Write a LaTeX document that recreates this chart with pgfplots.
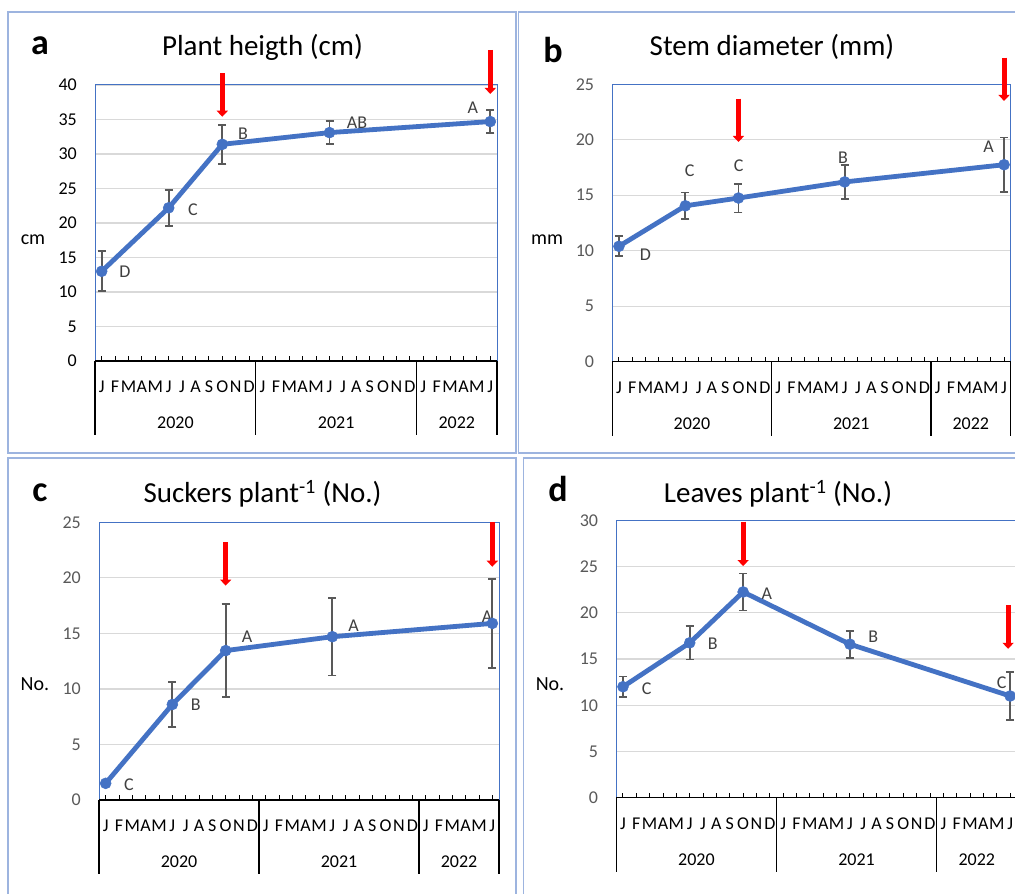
\documentclass[border=0pt]{standalone}
\usepackage{pgfplots}
\pgfplotsset{compat=1.18}
\usepackage{fontspec}
\setmainfont{Carlito}
\usetikzlibrary{arrows.meta}
\definecolor{cLine}{HTML}{4472C4}
\definecolor{cErr}{HTML}{595959}
\definecolor{cGrid}{HTML}{D9D9D9}
\definecolor{cBox}{HTML}{4472C4}
\definecolor{cFrame}{HTML}{9DB4DF}
\definecolor{cTxt}{HTML}{595959}
\definecolor{cLab}{HTML}{404040}
\definecolor{cRed}{HTML}{FF0000}
\newcommand{\fs}[1]{\fontsize{#1}{#1}\selectfont}

\pgfplotsset{
  panel/.style={
    scale only axis, anchor=south west, clip=false,
    xmin=-0.5, xmax=29.5, ymin=0,
    xtick={0,...,29},
    xticklabels={J,F,M,A,M,J,J,A,S,O,N,D,J,F,M,A,M,J,J,A,S,O,N,D,J,F,M,A,M,J},
    xtick pos=bottom, ytick pos=left,
    tick align=inside, major tick length=5pt,
    xtick style={black, line width=1pt},
    ytick style={draw=none},
    axis line style={cBox, line width=1pt},
    ymajorgrids, grid style={cGrid, line width=1.2pt},
    xticklabel style={anchor=base, yshift=-31.5pt, font=\fs{18}, text=black},
    yticklabel style={anchor=east, inner sep=0pt, xshift=-18pt, font=\fs{18}, text=cTxt},
    /pgf/number format/assume math mode=true,
  },
  series/.style={cLine, line width=4.8pt, line join=round, mark=*, mark size=5.5pt,
    mark options={fill=cLine, draw=cLine, line width=0.5pt},
    error bars/.cd, y dir=both, y explicit,
    error bar style={cErr, line width=1.8pt},
    error mark options={cErr, rotate=90, line width=1.8pt, mark size=4pt}},
}
\tikzset{
  arr/.style={cRed, line width=5pt, -{Triangle[width=11pt,length=6pt]}},
  lab/.style={font=\fs{18}, text=cLab},
}
\newcommand{\yearaxis}{%
  \draw[black, line width=1.5pt] (rel axis cs:0,0) -- (rel axis cs:1,0);
  \draw[black, line width=1.3pt] (axis cs:-0.5,0) -- ++(0pt,-74pt);
  \draw[black, line width=1.3pt] (axis cs:11.5,0) -- ++(0pt,-74pt);
  \draw[black, line width=1.3pt] (axis cs:23.5,0) -- ++(0pt,-74pt);
  \draw[black, line width=1.3pt] (axis cs:29.5,0) -- ++(0pt,-74pt);
  \node[anchor=base, font=\fs{18}] at ([yshift=-68pt]axis cs:5.5,0) {2020};
  \node[anchor=base, font=\fs{18}] at ([yshift=-68pt]axis cs:17.5,0) {2021};
  \node[anchor=base, font=\fs{18}] at ([yshift=-68pt]axis cs:26.5,0) {2022};
}

\begin{document}
\begin{tikzpicture}
\useasboundingbox (0pt,0pt) rectangle (1015pt,894pt);
\clip (0pt,0pt) rectangle (1015pt,894pt);
\fill[white] (0pt,0pt) rectangle (1015pt,894pt);

% panel frames
\draw[cFrame, line width=1.6pt] (8pt,882pt) rectangle (516pt,441pt);
\draw[cFrame, line width=1.6pt] (518.5pt,882pt) rectangle (1030pt,441pt);
\draw[cFrame, line width=1.6pt] (8pt,436pt) rectangle (516pt,-20pt);
\draw[cFrame, line width=1.6pt] (523.5pt,436pt) rectangle (1030pt,-20pt);

% titles and letters
\node[anchor=base, font=\fs{36}\bfseries] at (40pt,839pt) {a};
\node[anchor=base, font=\fs{29}] at (262.5pt,838pt) {Plant heigth (cm)};
\node[anchor=base, font=\fs{36}\bfseries] at (553pt,831.5pt) {b};
\node[anchor=base, font=\fs{29}] at (772pt,838pt) {Stem diameter (mm)};
\node[anchor=base, font=\fs{36}\bfseries] at (40pt,392.5pt) {c};
\node[anchor=base, font=\fs{29}] at (262.5pt,391.5pt) {Suckers plant\textsuperscript{-1} (No.)};
\node[anchor=base, font=\fs{36}\bfseries] at (558pt,392pt) {d};
\node[anchor=base, font=\fs{29}] at (778pt,391.5pt) {Leaves plant\textsuperscript{-1} (No.)};

% y axis titles
\node[anchor=base, font=\fs{20}] at (33pt,649pt) {cm};
\node[anchor=base, font=\fs{20}] at (547pt,649.5pt) {mm};
\node[anchor=base, font=\fs{20}] at (35pt,203pt) {No.};
\node[anchor=base, font=\fs{20}] at (550pt,203.5pt) {No.};

% a
\begin{axis}[panel, at={(95pt,533pt)}, width=402pt, height=276pt,
  ymax=40, ytick={0,5,...,40}, yticklabel style={text=black}]
\addplot[series] coordinates {
  (0,13.0) +- (0,2.9)
  (5,22.2) +- (0,2.6)
  (9,31.4) +- (0,2.8)
  (17,33.1) +- (0,1.65)
  (29,34.7) +- (0,1.7)
};
\yearaxis
\node[lab] at (axis cs:1.74,12.9) {D};
\node[lab] at (axis cs:6.81,21.9) {C};
\node[lab] at (axis cs:10.54,32.9) {B};
\node[lab] at (axis cs:19.05,34.6) {AB};
\node[lab] at (axis cs:27.7,36.7) {A};
\draw[arr] (axis cs:9,41.7) -- (axis cs:9,35.4);
\draw[arr] (axis cs:29,45.1) -- (axis cs:29,38.7);
\end{axis}

% b
\begin{axis}[panel, at={(612.3pt,532.3pt)}, width=398.4pt, height=277.4pt,
  ymax=25, ytick={0,5,...,25}]
\addplot[series] coordinates {
  (0,10.4) +- (0,0.9)
  (5,14.05) +- (0,1.2)
  (9,14.75) +- (0,1.3)
  (17,16.2) +- (0,1.55)
  (29,17.75) +- (0,2.45)
};
\yearaxis
\node[lab] at (axis cs:2.0,9.6) {D};
\node[lab] at (axis cs:5.33,17.2) {C};
\node[lab] at (axis cs:9.02,17.7) {C};
\node[lab] at (axis cs:16.87,18.4) {B};
\node[lab] at (axis cs:27.84,19.4) {A};
\draw[arr] (axis cs:9,23.7) -- (axis cs:9,19.8);
\draw[arr] (axis cs:29,27.4) -- (axis cs:29,23.5);
\end{axis}

% c
\begin{axis}[panel, at={(99pt,94pt)}, width=400pt, height=277.7pt,
  ymax=25, ytick={0,5,...,25}]
\addplot[series] coordinates {
  (0,1.5) +- (0,0.2)
  (5,8.6) +- (0,2.0)
  (9,13.45) +- (0,4.2)
  (17,14.7) +- (0,3.5)
  (29,15.9) +- (0,4.0)
};
\yearaxis
\node[lab] at (axis cs:1.75,1.4) {C};
\node[lab] at (axis cs:6.75,8.6) {B};
\node[lab] at (axis cs:10.6,14.7) {A};
\node[lab] at (axis cs:18.6,15.7) {A};
\node[lab] at (axis cs:28.6,16.5) {A};
\draw[arr] (axis cs:9,23.2) -- (axis cs:9,19.3);
\draw[arr] (axis cs:29,25.0) -- (axis cs:29,21.0);
\end{axis}

% d
\begin{axis}[panel, at={(616.3pt,96.3pt)}, width=400.5pt, height=277.4pt,
  ymax=30, ytick={0,5,...,30}]
\addplot[series] coordinates {
  (0,12.0) +- (0,1.1)
  (5,16.75) +- (0,1.8)
  (9,22.25) +- (0,2.0)
  (17,16.6) +- (0,1.45)
  (29,11.0) +- (0,2.6)
};
\yearaxis
\node[lab] at (axis cs:1.78,11.8) {C};
\node[lab] at (axis cs:6.72,16.7) {B};
\node[lab] at (axis cs:10.77,22.1) {A};
\node[lab] at (axis cs:18.75,17.4) {B};
\node[lab] at (axis cs:28.37,12.4) {C};
\draw[arr] (axis cs:9,29.85) -- (axis cs:9,25.05);
\draw[arr] (axis cs:28.85,20.8) -- (axis cs:28.85,16.1);
\end{axis}
\end{tikzpicture}
\end{document}
